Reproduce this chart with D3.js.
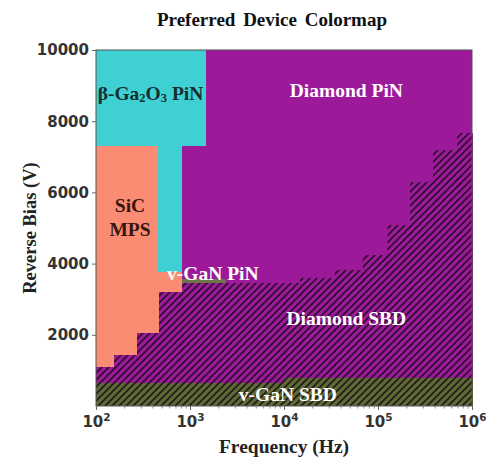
<!DOCTYPE html>
<html><head><meta charset="utf-8">
<script src="https://cdn.jsdelivr.net/npm/d3@7/dist/d3.min.js"></script>
<style>
html,body{margin:0;padding:0;background:#fff;}
svg{display:block;}
</style></head>
<body>
<svg id="chart" width="486" height="459"></svg>
<script>
// ---- data (frequency in Hz, reverse bias in V) ----
const xTicks = [1e2, 1e3, 1e4, 1e5, 1e6];
const xTickExp = ["2", "3", "4", "5", "6"];
const yTicks = [2000, 4000, 6000, 8000, 10000];
const yTickLabels = ["2000", "4000", "6000", "8000", "10000"];

// rectangles: [fStart, fEnd, vBottom, vTop]
const vGaNSBD = [[1e2, 1e4, 0, 650], [1e4, 1e6, 0, 780]];
const diamondSBD = [
  [100, 152, 650, 1100],
  [152, 273, 650, 1430],
  [273, 457, 650, 2050],
  [457, 822, 650, 3200],
  [822, 1e4, 650, 3455],
  [1e4, 14800, 780, 3455],
  [14800, 34700, 780, 3600],
  [34700, 69000, 780, 3820],
  [69000, 126000, 780, 4240],
  [126000, 219000, 780, 5080],
  [219000, 385000, 780, 6290],
  [385000, 692000, 780, 7190],
  [692000, 1e6, 780, 7670]
];
const sicMPS = [
  [100, 152, 1100, 7300],
  [152, 273, 1430, 7300],
  [273, 457, 2050, 7300],
  [457, 822, 3200, 3760]
];
const gaPiN = [[100, 1445, 7300, 10000], [457, 822, 3760, 7300]];
const vGaNPiN = [[822, 2400, 3455, 3560]];

const labels = [
  {text: "Diamond PiN", f: 4.6e4, v: 8850, color: "#ffffff"},
  {text: "Diamond SBD", f: 4.6e4, v: 2470, color: "#ffffff"},
  {text: "v-GaN SBD", f: 1.1e4, v: 330, color: "#ffffff"},
  {text: "v-GaN PiN", f: 1.75e3, v: 3720, color: "#ffffff"},
  {text: "SiC", f: 2.3e2, v: 5620, color: "#3a1510"},
  {text: "MPS", f: 2.3e2, v: 4970, color: "#3a1510"}
];

// ---- layout ----
const W = 486, H = 459;
const M = {left: 96, right: 472, top: 50, bottom: 406};
const svg = d3.select("#chart");
const x = d3.scaleLog().domain([1e2, 1e6]).range([M.left, M.right]);
const y = d3.scaleLinear().domain([0, 10000]).range([M.bottom, M.top]);

const colors = {
  dPiN: "#9c1a9a",
  dSBD: "#9c1a9a",
  sic: "#f98c73",
  ga: "#3fd0d4",
  vsbd: "#5c6a33",
  vpin: "#6d7548"
};

const defs = svg.append("defs");
const pat = defs.append("pattern").attr("id", "hatch")
  .attr("patternUnits", "userSpaceOnUse").attr("width", 7).attr("height", 7);
pat.append("path").attr("d", "M0,7 L7,0 M-1,1 L1,-1 M6,8 L8,6")
  .attr("stroke", "#1a0818").attr("stroke-width", 1.6).attr("stroke-opacity", 0.85);

const g = svg.append("g");
// Diamond PiN fills the remainder
g.append("rect")
  .attr("x", x(x.domain()[0])).attr("y", y(y.domain()[1]))
  .attr("width", x(x.domain()[1]) - x(x.domain()[0]))
  .attr("height", y(y.domain()[0]) - y(y.domain()[1]))
  .attr("fill", colors.dPiN);

function drawRects(data, fill, hatched) {
  const sel = g.append("g");
  sel.selectAll("rect.f").data(data).join("rect").attr("class", "f")
    .attr("x", d => x(d[0])).attr("y", d => y(d[3]))
    .attr("width", d => x(d[1]) - x(d[0]) + 0.5)
    .attr("height", d => y(d[2]) - y(d[3]) + 0.3)
    .attr("fill", fill).attr("shape-rendering", "crispEdges");
  if (hatched) {
    sel.selectAll("rect.h").data(data).join("rect").attr("class", "h")
      .attr("x", d => x(d[0])).attr("y", d => y(d[3]))
      .attr("width", d => x(d[1]) - x(d[0]) + 0.5)
      .attr("height", d => y(d[2]) - y(d[3]))
      .attr("fill", "url(#hatch)");
  }
}
drawRects(diamondSBD, colors.dSBD, true);
drawRects(vGaNSBD, colors.vsbd, true);
drawRects(sicMPS, colors.sic, false);
drawRects(gaPiN, colors.ga, false);
drawRects(vGaNPiN, colors.vpin, false);

// frame
svg.append("rect").attr("x", M.left).attr("y", M.top)
  .attr("width", M.right - M.left).attr("height", M.bottom - M.top)
  .attr("fill", "none").attr("stroke", "#555").attr("stroke-width", 1);

// region labels
const serif = "'Liberation Serif','Times New Roman',serif";
svg.append("g").selectAll("text").data(labels).join("text")
  .attr("x", d => x(d.f)).attr("y", d => y(d.v))
  .attr("text-anchor", "middle").attr("dominant-baseline", "central")
  .attr("font-family", serif).attr("font-weight", "bold").attr("font-size", 19.5)
  .attr("fill", d => d.color).text(d => d.text);

// beta-Ga2O3 label with subscripts
const gl = svg.append("text").attr("x", x(3.8e2)).attr("y", y(8800))
  .attr("text-anchor", "middle").attr("dominant-baseline", "central")
  .attr("font-family", serif).attr("font-weight", "bold").attr("font-size", 19.5)
  .attr("fill", "#13302f");
gl.append("tspan").text("β-Ga");
gl.append("tspan").attr("font-size", 12.5).attr("dy", 5).text("2");
gl.append("tspan").attr("dy", -5).text("O");
gl.append("tspan").attr("font-size", 12.5).attr("dy", 5).text("3");
gl.append("tspan").attr("dy", -5).text(" PiN");

// axes
const sans = "'DejaVu Sans',sans-serif";
const yAxis = svg.append("g").attr("transform", `translate(${M.left},0)`)
  .call(d3.axisLeft(y).tickValues(yTicks).tickSize(4).tickPadding(3)
    .tickFormat((d, i) => yTickLabels[i]));
yAxis.select(".domain").remove();
yAxis.selectAll(".tick line").attr("stroke", "#666");
yAxis.selectAll("text").attr("font-family", sans).attr("font-weight", "bold")
  .attr("font-size", 15).attr("fill", "#333");

const minor = [];
for (let e = 2; e < 6; e++) for (let k = 2; k < 10; k++) minor.push(k * Math.pow(10, e));
const xMinor = svg.append("g").attr("transform", `translate(0,${M.bottom})`)
  .call(d3.axisBottom(x).tickValues(minor).tickSize(2.5).tickFormat(""));
xMinor.select(".domain").remove();
xMinor.selectAll(".tick line").attr("stroke", "#888");

const xAxis = svg.append("g").attr("transform", `translate(0,${M.bottom})`)
  .call(d3.axisBottom(x).tickValues(xTicks).tickSize(4).tickPadding(4).tickFormat(""));
xAxis.select(".domain").remove();
xAxis.selectAll(".tick line").attr("stroke", "#666");
xAxis.selectAll(".tick").append("text")
  .attr("y", 21).attr("text-anchor", "middle")
  .attr("font-family", sans).attr("font-weight", "bold").attr("font-size", 15)
  .attr("fill", "#333")
  .each(function(d, i) {
    const t = d3.select(this);
    t.append("tspan").text("10");
    t.append("tspan").attr("font-size", 10.5).attr("dy", -6).text(xTickExp[i]);
  });

// titles
svg.append("text").attr("x", 272).attr("y", 26).attr("text-anchor", "middle")
  .attr("font-family", serif).attr("font-weight", "bold").attr("font-size", 19)
  .attr("word-spacing", 3).attr("fill", "#111").text("Preferred Device Colormap");
svg.append("text").attr("x", 284).attr("y", 453).attr("text-anchor", "middle")
  .attr("font-family", serif).attr("font-weight", "bold").attr("font-size", 19.5)
  .attr("fill", "#222").text("Frequency (Hz)");
svg.append("text").attr("transform", `translate(36,228) rotate(-90)`)
  .attr("text-anchor", "middle")
  .attr("font-family", serif).attr("font-weight", "bold").attr("font-size", 18.5)
  .attr("fill", "#222").text("Reverse Bias (V)");
</script>
</body></html>
